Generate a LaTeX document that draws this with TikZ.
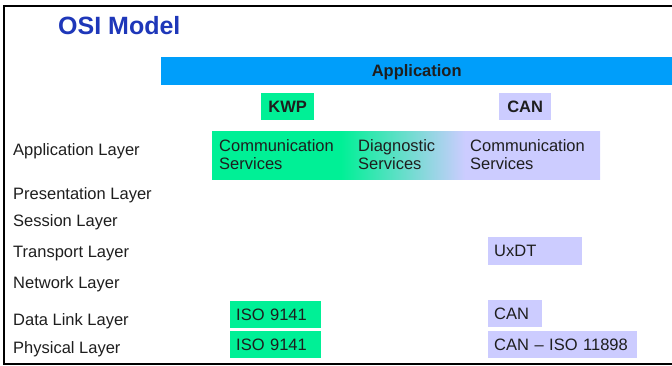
\documentclass[tikz,border=0pt]{standalone}
\usepackage{fontspec}
\setmainfont{Liberation Sans}
\usetikzlibrary{positioning}
\definecolor{barblue}{RGB}{0,158,250}
\definecolor{kwpgreen}{RGB}{0,240,150}
\definecolor{canblue}{RGB}{204,204,255}
\definecolor{titleblue}{RGB}{30,55,185}
\definecolor{ink}{RGB}{30,30,30}
% green on the left, fading into lavender
\pgfdeclarehorizontalshading{servband}{100bp}{color(0bp)=(kwpgreen); color(41.6bp)=(kwpgreen);
  color(57.6bp)=(canblue); color(100bp)=(canblue)}

\begin{document}
\begin{tikzpicture}[x=1pt, y=-1pt,
    txt/.style={text=ink, font=\fontsize{16.5}{18}\selectfont},
    layer/.style={txt, anchor=base west, inner sep=0pt},
    cell/.style={txt, anchor=north west, inner xsep=6pt, inner ysep=0pt, align=left,
      text height=11.5pt, text depth=0pt},
    kwp/.style={cell, fill=kwpgreen},
    can/.style={cell, fill=canblue}]
    \useasboundingbox (0,0) rectangle (672,366);
    \draw[line width=2pt] (672,6) -- (4,6) -- (4,364) -- (672,364);

    \node[anchor=base west, inner sep=0pt, text=titleblue,
      font=\fontsize{25}{28}\selectfont\bfseries] (title) at (58,35) {OSI Model};

    % top bar and the two stacks
    \node[cell, fill=barblue, align=center, inner sep=0pt, minimum width=511pt,
      minimum height=28pt, font=\fontsize{16.5}{18}\selectfont\bfseries] (app) at (161,57) {Application};
    \node[kwp, align=center, text width=41pt, minimum height=27pt,
      font=\fontsize{16.5}{18}\selectfont\bfseries] (kwphead) at (261,93) {KWP};
    \node[can, align=center, text width=40pt, minimum height=27pt,
      font=\fontsize{16.5}{18}\selectfont\bfseries] (canhead) at (499,93) {CAN};

    % services band
    \shade[shading=servband] (212,132) rectangle (600,180);
    \node[txt, anchor=west, inner sep=0pt, align=left] (kwpcomm) at (219,155) {Communication\\Services};
    \node[txt, anchor=west, inner sep=0pt, align=left] (diag) at (358,155) {Diagnostic\\Services};
    \node[txt, anchor=west, inner sep=0pt, align=left] (cancomm) at (470,155) {Communication\\Services};

    % OSI layers
    \node[layer] (l7) at (13,156) {Application Layer};
    \node[layer] (l6) at (13,200) {Presentation Layer};
    \node[layer] (l5) at (13,227) {Session Layer};
    \node[layer] (l4) at (13,258) {Transport Layer};
    \node[layer] (l3) at (13,288) {Network Layer};
    \node[layer] (l2) at (13,325) {Data Link Layer};
    \node[layer] (l1) at (13,353) {Physical Layer};

    \node[can, text width=82pt, minimum height=28pt] (uxdt) at (488,237) {UxDT};
    \node[kwp, text width=79pt, minimum height=27pt, yshift=-1pt] (kwplink) at (230,300) {ISO 9141};
    \node[kwp, text width=79pt, minimum height=27pt] (kwpphy) at (230,331) {ISO 9141};
    \node[can, text width=42pt, minimum height=27pt] (canlink) at (488,300) {CAN};
    \node[can, text width=137pt, minimum height=27pt] (canphy) at (488,331) {CAN -- ISO 11898};
\end{tikzpicture}
\end{document}
